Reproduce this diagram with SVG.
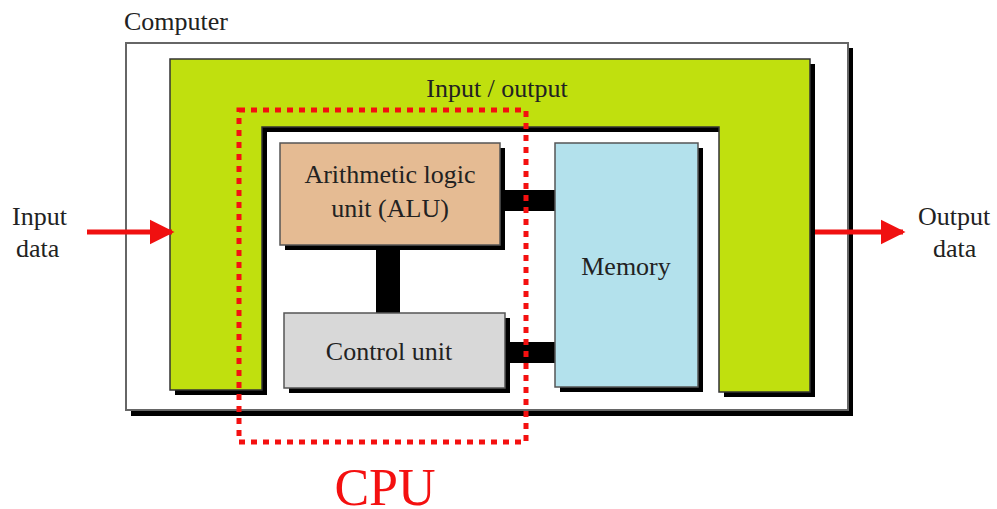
<svg xmlns="http://www.w3.org/2000/svg" width="997" height="509" viewBox="0 0 997 509">
  <defs>
    <style>
      .lbl { font-family: "Liberation Serif", "Times New Roman", serif; font-size: 26px; fill: #222; }
      .mid { text-anchor: middle; }
      .shadow { fill: #000; }
      .box { stroke: #555; stroke-width: 1.5; }
      .bar { fill: #000; }
      .arrow { stroke: #f01010; stroke-width: 5; fill: none; }
    </style>
    <marker id="head" viewBox="0 0 10 10" refX="9" refY="5" markerWidth="5" markerHeight="5.4" orient="auto" markerUnits="strokeWidth">
      <path d="M0,0 L10,5 L0,10 z" fill="#f01010"/>
    </marker>
  </defs>

  <rect width="997" height="509" fill="#fff"/>

  <!-- computer enclosure -->
  <g id="computer">
    <rect class="shadow" x="131" y="48" width="722" height="368"/>
    <rect x="126" y="43" width="722" height="367" fill="#fff" stroke="#666" stroke-width="2"/>
    <text class="lbl" x="124" y="30">Computer</text>
  </g>

  <!-- input / output U-shaped band -->
  <g id="io">
    <path class="shadow" d="M175,64 H815 V397 H724 V132 H267 V395 H175 Z"/>
    <path d="M170,59 H810 V392 H719 V127 H262 V390 H170 Z" fill="#c0e00e" stroke="#333" stroke-width="1.5"/>
    <text class="lbl mid" x="497" y="97">Input / output</text>
  </g>

  <!-- connectors -->
  <g id="connectors">
    <rect class="bar" x="498" y="190" width="58" height="21"/>
    <rect class="bar" x="503" y="342" width="53" height="21"/>
    <rect class="bar" x="376" y="243" width="24" height="72"/>
    <line class="arrow" x1="87" y1="232" x2="172" y2="232" marker-end="url(#head)"/>
    <line class="arrow" x1="815" y1="232" x2="903" y2="232" marker-end="url(#head)"/>
  </g>

  <g id="alu">
    <rect class="shadow" x="285" y="148" width="220" height="102"/>
    <rect class="box" x="280" y="143" width="220" height="102" fill="#e5bb93"/>
    <text class="lbl mid" x="390" y="183">Arithmetic logic</text>
    <text class="lbl mid" x="390" y="217">unit (ALU)</text>
  </g>

  <g id="control">
    <rect class="shadow" x="289" y="318" width="221" height="75"/>
    <rect class="box" x="284" y="313" width="221" height="75" fill="#d8d8d8"/>
    <text class="lbl mid" x="389" y="360">Control unit</text>
  </g>

  <g id="memory">
    <rect class="shadow" x="560" y="148" width="143" height="244"/>
    <rect class="box" x="555" y="143" width="143" height="244" fill="#b3e1ec"/>
    <text class="lbl mid" x="626" y="275">Memory</text>
  </g>

  <g id="input-data">
    <text class="lbl" x="12" y="225">Input</text>
    <text class="lbl" x="16" y="257">data</text>
  </g>

  <g id="output-data">
    <text class="lbl" x="918" y="225">Output</text>
    <text class="lbl" x="933" y="257">data</text>
  </g>

  <!-- CPU boundary -->
  <g id="cpu">
    <rect x="239" y="110" width="287" height="332" fill="none" stroke="#f41010" stroke-width="5" stroke-dasharray="6 6"/>
    <text x="385" y="505" text-anchor="middle" font-family="Liberation Serif, Times New Roman, serif" font-size="52" fill="#f41010">CPU</text>
  </g>
</svg>
